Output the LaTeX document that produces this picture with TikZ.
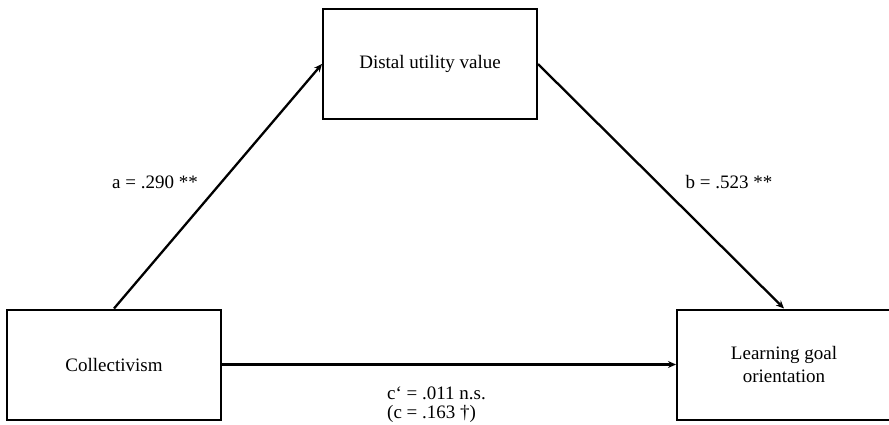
\documentclass[tikz,border=0pt]{standalone}
\usepackage{fontspec}
\setmainfont{Liberation Serif}
\usetikzlibrary{arrows.meta}
\tikzset{
  varbox/.style={draw, line width=2pt, minimum width=214pt, minimum height=110pt, inner sep=0pt, align=center},
  patharrow/.style={line width=2.3pt, -{Stealth[length=8pt,width=7pt]}},
  coeff/.style={inner sep=0pt, align=left}
}
\begin{document}
\begin{tikzpicture}[x=1pt, y=-1pt, font=\fontsize{19}{23}\selectfont]
			%%%%% START %%%%%
			\useasboundingbox (0, 0) rectangle (889, 425);
			
			\node[varbox] (distal) at (430, 64) {Distal utility value};
			\node[varbox] (collect) at (114, 364.5) {Collectivism};
			\node[varbox] (learn) at (784, 364.5) {Learning goal\\orientation};
			
			\draw[patharrow] (collect.north) -- (distal.west);
			\draw[patharrow] (distal.east) -- (learn.north);
			\draw[patharrow] (collect.east) -- (learn.west);
			
			\node[coeff] (alabel) at (155, 182) {a = .290 **};
			\node[coeff] (blabel) at (729, 182) {b = .523 **};
			\node[coeff, anchor=north west, font=\fontsize{19}{19}\selectfont] (clabel) at (387, 387) {c‘ = .011 n.s.\\(c = .163 †)};
			
			%%%%% END %%%%%
\end{tikzpicture}
\end{document}
